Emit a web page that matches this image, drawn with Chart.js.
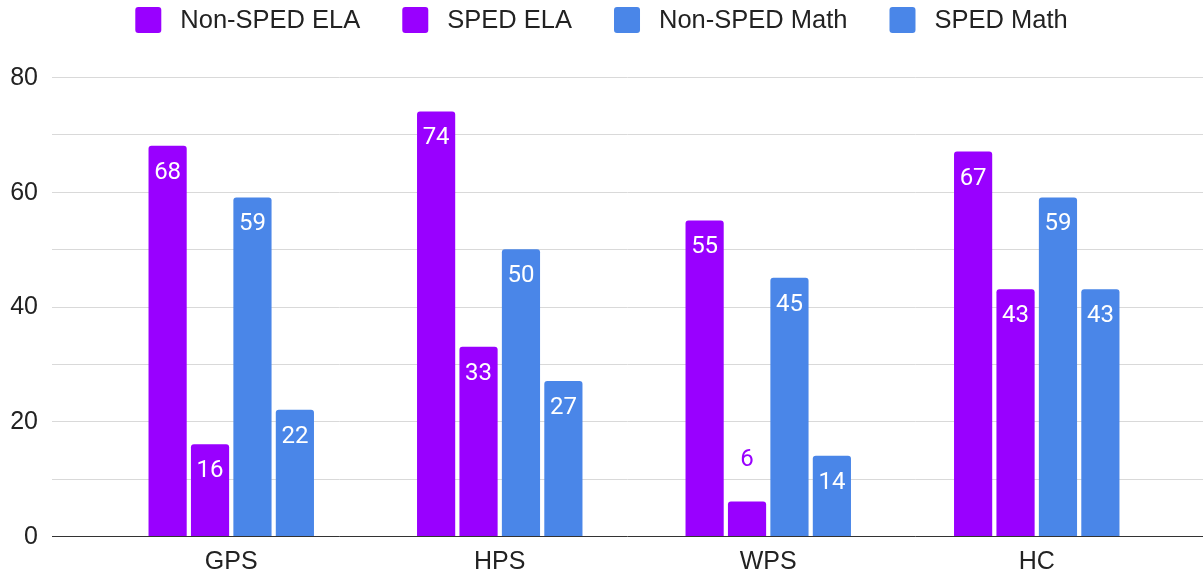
<!DOCTYPE html>
<html>
<head>
<meta charset="utf-8">
<script src="https://cdn.jsdelivr.net/npm/chart.js@4.4.1/dist/chart.umd.min.js"></script>
<style>
  html, body { margin: 0; padding: 0; background: #ffffff; }
  #wrap { width: 1203px; height: 577px; position: relative; }
</style>
</head>
<body>
<div id="wrap"><canvas id="chart" width="1203" height="577"></canvas></div>
<script>
// Districts along the x axis
const categories = ['GPS', 'HPS', 'WPS', 'HC'];

// Scores by group
const nonSpedEla = [68, 74, 55, 67];
const spedEla = [16, 33, 6, 43];
const nonSpedMath = [59, 50, 45, 59];
const spedMath = [22, 27, 14, 43];

const seriesNames = ['Non-SPED ELA', 'SPED ELA', 'Non-SPED Math', 'SPED Math'];
const yTicks = [0, 20, 40, 60, 80];

const PURPLE = '#9900ff';
const BLUE = '#4a86e8';
const AXIS_FONT = '"Liberation Sans", Arial, sans-serif';
const LABEL_FONT = 'Roboto, "Liberation Sans", Arial, sans-serif';

// Horizontal grid spanning the full width, y tick labels, and the dark baseline
const gridPlugin = {
  id: 'wideGrid',
  beforeDatasetsDraw(chart) {
    const { ctx } = chart;
    const y = chart.scales.y;
    ctx.save();
    ctx.lineWidth = 1;
    ctx.strokeStyle = '#d9d9d9';
    for (let v = 10; v <= 80; v += 10) {
      const py = Math.round(y.getPixelForValue(v)) + 0.5;
      ctx.beginPath();
      ctx.moveTo(52, py);
      ctx.lineTo(chart.width, py);
      ctx.stroke();
    }
    ctx.font = '25px ' + AXIS_FONT;
    ctx.fillStyle = '#222222';
    ctx.textAlign = 'right';
    ctx.textBaseline = 'middle';
    yTicks.forEach(v => {
      ctx.fillText(String(v), 38, y.getPixelForValue(v) + 1);
    });
    ctx.restore();
  },
  afterDatasetsDraw(chart) {
    const { ctx } = chart;
    const y = chart.scales.y;
    const py = Math.round(y.getPixelForValue(0)) + 0.5;
    ctx.save();
    ctx.strokeStyle = '#333333';
    ctx.lineWidth = 1;
    ctx.beginPath();
    ctx.moveTo(52, py);
    ctx.lineTo(chart.width, py);
    ctx.stroke();
    ctx.restore();
  }
};

// Value labels: inside the top of each bar, or above it when the bar is short
const valueLabelPlugin = {
  id: 'valueLabels',
  afterDatasetsDraw(chart) {
    const { ctx } = chart;
    ctx.save();
    ctx.font = '24px ' + LABEL_FONT;
    ctx.textAlign = 'center';
    ctx.textBaseline = 'middle';
    chart.data.datasets.forEach((ds, i) => {
      const meta = chart.getDatasetMeta(i);
      meta.data.forEach((bar, j) => {
        const value = ds.data[j];
        const h = bar.base - bar.y;
        if (h < 40) {
          ctx.fillStyle = ds.backgroundColor;
          ctx.fillText(String(value), bar.x, bar.y - 42);
        } else {
          ctx.fillStyle = '#ffffff';
          ctx.fillText(String(value), bar.x, bar.y + 27);
        }
      });
    });
    ctx.restore();
  }
};

// Legend row across the top
const legendPlugin = {
  id: 'topLegend',
  afterDraw(chart) {
    const { ctx } = chart;
    ctx.save();
    ctx.font = '25.5px ' + AXIS_FONT;
    ctx.textBaseline = 'middle';
    ctx.textAlign = 'left';
    const box = 26, gapText = 19, gapItem = 42, cy = 20;
    const items = chart.data.datasets.map(ds => ({ label: ds.label, color: ds.backgroundColor, w: ctx.measureText(ds.label).width }));
    let total = 0;
    items.forEach((it, k) => { total += box + gapText + it.w + (k < items.length - 1 ? gapItem : 0); });
    let x = (chart.width - total) / 2;
    items.forEach(it => {
      ctx.fillStyle = it.color;
      ctx.beginPath();
      ctx.roundRect(x, cy - box / 2, box, box, 3);
      ctx.fill();
      ctx.fillStyle = '#222222';
      ctx.fillText(it.label, x + box + gapText, cy + 1);
      x += box + gapText + it.w + gapItem;
    });
    ctx.restore();
  }
};

const colors = [PURPLE, PURPLE, BLUE, BLUE];
const values = [nonSpedEla, spedEla, nonSpedMath, spedMath];

new Chart(document.getElementById('chart'), {
  type: 'bar',
  data: {
    labels: categories,
    datasets: seriesNames.map((name, i) => ({
      label: name,
      data: values[i],
      backgroundColor: colors[i],
      borderWidth: 0,
      borderRadius: { topLeft: 3, topRight: 3, bottomLeft: 0, bottomRight: 0 },
      borderSkipped: 'start',
      categoryPercentage: 0.632,
      barPercentage: 0.9
    }))
  },
  options: {
    responsive: false,
    maintainAspectRatio: false,
    animation: false,
    devicePixelRatio: 1,
    layout: { padding: { left: 97, right: 32, top: 77, bottom: 0 } },
    plugins: {
      legend: { display: false },
      tooltip: { enabled: false }
    },
    scales: {
      x: {
        afterFit(scale) { scale.height = 41; },
        grid: { display: false, drawTicks: false },
        border: { display: false },
        ticks: { color: '#222222', font: { family: AXIS_FONT, size: 25 }, padding: 11, maxRotation: 0, autoSkip: false }
      },
      y: {
        min: 0,
        max: 80,
        afterBuildTicks(scale) { scale.ticks = yTicks.map(v => ({ value: v })); },
        grid: { display: false, drawTicks: false },
        border: { display: false },
        ticks: { display: false }
      }
    }
  },
  plugins: [gridPlugin, valueLabelPlugin, legendPlugin]
});
</script>
</body>
</html>
